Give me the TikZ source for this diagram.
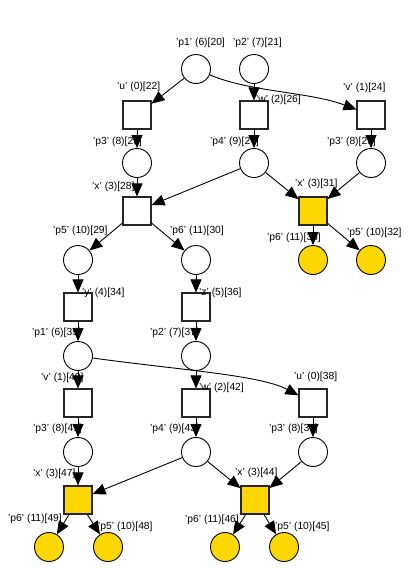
\documentclass[tikz,border=0pt]{standalone}
\usepackage{fontspec}
\setmainfont{Liberation Sans}
\usetikzlibrary{arrows.meta}
\definecolor{fired}{RGB}{255,215,0}
\begin{document}
\begin{tikzpicture}[x=1pt,y=-1pt,
  place/.style={circle,draw=black,line width=0.9pt,minimum size=29pt,inner sep=0pt,fill=white},
  trans/.style={rectangle,draw=black!85,line width=1.1pt,minimum size=28pt,inner sep=0pt,fill=white},
  hot/.style={fill=fired},
  lbl/.style={anchor=west,inner sep=0pt,font=\fontsize{10.3}{12}\selectfont},
  arc/.style={-{Triangle[length=13pt,width=11pt]},line width=0.9pt}]
\useasboundingbox[fill=white] (0,0) rectangle (412,568);

% ---- places ----
\node[place] (p1a) at (196,69) {};
\node[place] (p2a) at (254,69) {};
\node[place] (p3a) at (137,163) {};
\node[place] (p4a) at (254,163) {};
\node[place] (p3b) at (371,163) {};
\node[place] (p5a) at (78,260) {};
\node[place] (p6a) at (196,260) {};
\node[place,hot] (p6b) at (313,260) {};
\node[place,hot] (p5b) at (371,260) {};
\node[place] (p1b) at (78,356) {};
\node[place] (p2b) at (196,356) {};
\node[place] (p3c) at (78,452) {};
\node[place] (p4b) at (196,452) {};
\node[place] (p3d) at (313,452) {};
\node[place,hot] (p6c) at (49,547) {};
\node[place,hot] (p5c) at (108,547) {};
\node[place,hot] (p6d) at (225,547) {};
\node[place,hot] (p5d) at (284,547) {};

% ---- transitions ----
\node[trans] (ua) at (137,115) {};
\node[trans] (wa) at (254,115) {};
\node[trans] (va) at (371,115) {};
\node[trans] (xa) at (137,211) {};
\node[trans,hot] (xb) at (313,211) {};
\node[trans] (ya) at (78,307) {};
\node[trans] (za) at (196,307) {};
\node[trans] (vb) at (78,403) {};
\node[trans] (wb) at (196,403) {};
\node[trans] (ub) at (313,403) {};
\node[trans,hot] (xc) at (78,500) {};
\node[trans,hot] (xd) at (255,500) {};

% ---- labels ----
\node[lbl] (lp1a) at (176,43) {'p1' (6)[20]};
\node[lbl] (lp2a) at (233,43) {'p2' (7)[21]};
\node[lbl] (lua) at (117,87) {'u' (0)[22]};
\node[lbl] (lwa) at (256,100) {'w' (2)[26]};
\node[lbl] (lva) at (343,88) {'v' (1)[24]};
\node[lbl] (lp3a) at (93,142) {'p3' (8)[23]};
\node[lbl] (lp4a) at (210,142) {'p4' (9)[27]};
\node[lbl] (lp3b) at (327,142) {'p3' (8)[25]};
\node[lbl] (lxa) at (92,187) {'x' (3)[28]};
\node[lbl] (lxb) at (295,184) {'x' (3)[31]};
\node[lbl] (lp5a) at (53,231) {'p5' (10)[29]};
\node[lbl] (lp6a) at (170,231) {'p6' (11)[30]};
\node[lbl] (lp6b) at (267,238) {'p6' (11)[33]};
\node[lbl] (lp5b) at (347,233) {'p5' (10)[32]};
\node[lbl] (lya) at (82,293) {'y' (4)[34]};
\node[lbl] (lza) at (199,293) {'z' (5)[36]};
\node[lbl] (lp1b) at (32,333) {'p1' (6)[35]};
\node[lbl] (lp2b) at (150,333) {'p2' (7)[37]};
\node[lbl] (lvb) at (41,378) {'v' (1)[40]};
\node[lbl] (lwb) at (199,388) {'w' (2)[42]};
\node[lbl] (lub) at (294,377) {'u' (0)[38]};
\node[lbl] (lp3c) at (33,429) {'p3' (8)[41]};
\node[lbl] (lp4b) at (150,429) {'p4' (9)[43]};
\node[lbl] (lp3d) at (269,429) {'p3' (8)[39]};
\node[lbl] (lxc) at (33,474) {'x' (3)[47]};
\node[lbl] (lxd) at (235,473) {'x' (3)[44]};
\node[lbl] (lp6c) at (8,519) {'p6' (11)[49]};
\node[lbl] (lp5c) at (98,527) {'p5' (10)[48]};
\node[lbl] (lp6d) at (185,520) {'p6' (11)[46]};
\node[lbl] (lp5d) at (275,527) {'p5' (10)[45]};

% ---- arcs ----
\draw[arc] (p1a) -- (ua);
\draw[arc] (p1a) .. controls (250,92) and (310,92) .. (va);
\draw[arc] (p2a) -- (wa);
\draw[arc] (ua) -- (p3a);
\draw[arc] (wa) -- (p4a);
\draw[arc] (va) -- (p3b);
\draw[arc] (p3a) -- (xa);
\draw[arc] (p4a) -- (xa);
\draw[arc] (p4a) -- (xb);
\draw[arc] (p3b) -- (xb);
\draw[arc] (xa) -- (p5a);
\draw[arc] (xa) -- (p6a);
\draw[arc] (xb) -- (p6b);
\draw[arc] (xb) -- (p5b);
\draw[arc] (p5a) -- (ya);
\draw[arc] (p6a) -- (za);
\draw[arc] (ya) -- (p1b);
\draw[arc] (za) -- (p2b);
\draw[arc] (p1b) -- (vb);
\draw[arc] (p1b) .. controls (180,370) and (260,375) .. (ub);
\draw[arc] (p2b) -- (wb);
\draw[arc] (vb) -- (p3c);
\draw[arc] (wb) -- (p4b);
\draw[arc] (ub) -- (p3d);
\draw[arc] (p3c) -- (xc);
\draw[arc] (p4b) -- (xc);
\draw[arc] (p4b) -- (xd);
\draw[arc] (p3d) -- (xd);
\draw[arc] (xc) -- (p6c);
\draw[arc] (xc) -- (p5c);
\draw[arc] (xd) -- (p6d);
\draw[arc] (xd) -- (p5d);
\end{tikzpicture}
\end{document}
